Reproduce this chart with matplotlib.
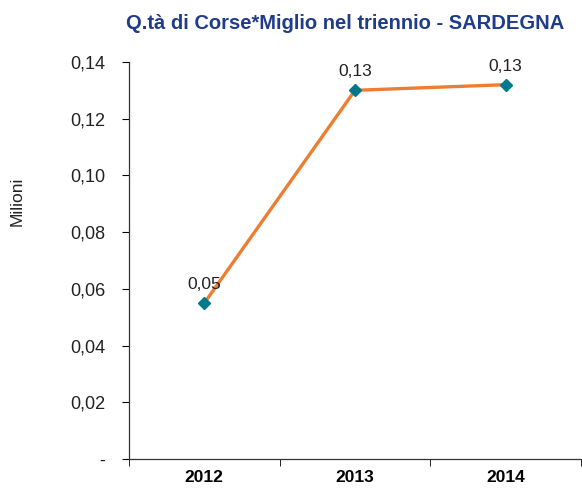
import matplotlib.pyplot as plt
from matplotlib.ticker import FuncFormatter

plt.rcParams['font.family'] = ['Liberation Sans', 'DejaVu Sans']

years = ['2012', '2013', '2014']
values = [0.055, 0.130, 0.132]
labels = ['0,05', '0,13', '0,13']
yticks = [0, 0.02, 0.04, 0.06, 0.08, 0.10, 0.12, 0.14]

fig = plt.figure(figsize=(5.82, 4.88), dpi=100)
ax = fig.add_axes([0.2216, 0.0594, 0.7767, 0.8136])

x = range(len(years))
ax.plot(x, values, color='#ED7D31', lw=2.4, marker='D', ms=6,
        mfc='#00798C', mec='#00798C', zorder=3)
for xi, v, lab in zip(x, values, labels):
    ax.annotate(lab, (xi, v), xytext=(0, 8), textcoords='offset points',
                ha='center', va='bottom', fontsize=12.5, color='#222222')

ax.set_xlim(-0.5, 2.5)
ax.set_ylim(0, 0.14)
ax.set_yticks(yticks)
ax.yaxis.set_major_formatter(FuncFormatter(
    lambda v, p: '-' if abs(v) < 1e-9 else f'{v:.2f}'.replace('.', ',')))
ax.set_xticks(list(x))
ax.set_xticklabels(years, fontsize=12.5, fontweight='bold')
ax.set_xticks([-0.5, 0.5, 1.5, 2.5], minor=True)
ax.tick_params(axis='x', which='major', length=0, pad=8)
ax.tick_params(axis='x', which='minor', length=5, direction='out')
ax.tick_params(axis='y', length=5, direction='out', labelsize=13, pad=12,
               labelcolor='#222222')

for s in ['top', 'right']:
    ax.spines[s].set_visible(False)
for s in ['left', 'bottom']:
    ax.spines[s].set_color('#333333')
    ax.spines[s].set_linewidth(0.9)

ax.set_ylabel('Milioni', fontsize=12.5, color='#222222')
ax.yaxis.set_label_coords(-0.23, 0.65)
fig.text(0.593, 0.952, 'Q.tà di Corse*Miglio nel triennio - SARDEGNA',
         ha='center', va='center', fontsize=14.5, fontweight='bold',
         color='#1F3C8C')

fig.savefig('out.png', dpi=100)
